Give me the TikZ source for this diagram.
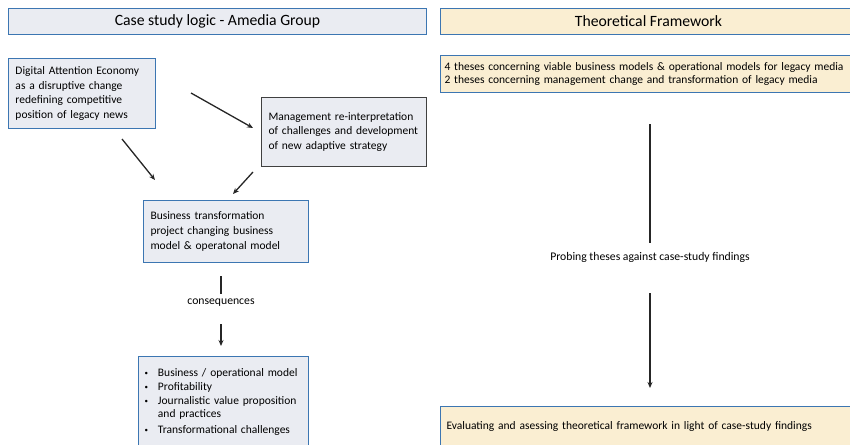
\documentclass[tikz,border=0pt]{standalone}
\usepackage{fontspec}
\setmainfont{Carlito}
\usetikzlibrary{arrows.meta, positioning}
\definecolor{boxgray}{RGB}{234,236,242}
\definecolor{boxbeige}{RGB}{250,238,210}
\definecolor{edgeblue}{RGB}{60,118,178}
\definecolor{edgedark}{RGB}{64,64,64}

\begin{document}
\begin{tikzpicture}[
    x=1pt, y=-1pt,
    head/.style={rectangle, draw=edgeblue, line width=1pt, minimum height=26pt, anchor=north west, font=\fontsize{15.7}{18}\selectfont},
    case/.style={rectangle, draw=edgeblue, line width=1pt, fill=boxgray, anchor=north west, align=left, inner sep=7pt, font=\fontsize{11.5}{14.7}\selectfont},
    theory/.style={rectangle, draw=edgeblue, line width=1pt, fill=boxbeige, anchor=north west, align=left, inner sep=3pt, font=\fontsize{11.5}{13}\selectfont},
    arrow/.style={-{Stealth[length=6pt, width=5pt]}, line width=1.3pt, draw=black!85},
    stem/.style={line width=1.3pt, draw=black!85},
    note/.style={font=\fontsize{11.7}{13}\selectfont}
]
    \useasboundingbox (0,0) rectangle (850,444);

    % headers
    \node (hcase) [head, fill=boxgray, minimum width=418pt] at (8,8) {Case study logic - Amedia Group};
    \node (htheo) [head, fill=boxbeige, minimum width=416pt] at (440,8) {Theoretical Framework};

    % left column
    \node (dae) [case, minimum width=147pt, minimum height=70pt, text width=133pt, inner sep=7pt] at (8,58)
        {Digital Attention Economy\\as a disruptive change\\redefining competitive\\position of legacy news};
    \node (mgmt) [case, draw=edgedark, minimum width=165pt, minimum height=69pt, text width=151pt] at (261,97)
        {Management re-interpretation\\of challenges and development\\of new adaptive strategy};
    \node (bt) [case, minimum width=165pt, minimum height=62pt, text width=151pt] at (143,200)
        {Business transformation\\project changing business\\model \& operatonal model};
    \node (cons) [note] at (221,303) {consequences};
    \node (res) [case, minimum width=170pt, minimum height=92pt, text width=158pt, inner sep=6pt] at (138,356)
        {\begin{tabular}{@{}l@{\hspace{10pt}}l@{}}
         \raisebox{1pt}{\scriptsize\textbullet} & Business / operational model\\[-0.7pt]
         \raisebox{1pt}{\scriptsize\textbullet} & Profitability\\[-0.7pt]
         \raisebox{1pt}{\scriptsize\textbullet} & Journalistic value proposition\\[-1.7pt]
                     & and practices\\[1.3pt]
         \raisebox{1pt}{\scriptsize\textbullet} & Transformational challenges
         \end{tabular}};

    % right column
    \node (thes) [theory, minimum width=416pt, minimum height=37pt, text width=408pt] at (440,55)
        {4 theses concerning viable business models \& operational models for legacy media\\
         2 theses concerning management change and transformation of legacy media};
    \node (probe) [note] at (650,257) {Probing theses against case-study findings};
    \node (eval) [theory, minimum width=416pt, minimum height=40pt, text width=404pt, inner sep=5pt] at (440,406)
        {Evaluating and asessing theoretical framework in light of case-study findings};

    % connectors
    \coordinate (a1) at (191,93);  \coordinate (a2) at (253,128);
    \coordinate (b1) at (122,139); \coordinate (b2) at (155,180);
    \coordinate (c1) at (253,172); \coordinate (c2) at (233,194);
    \draw [arrow] (a1) -- (a2);
    \draw [arrow] (b1) -- (b2);
    \draw [arrow] (c1) -- (c2);
    \draw [stem] (221,276) -- (cons.north |- 0,294);
    \draw [arrow] (cons.south |- 0,324) -- (221,346);
    \draw [stem] (650,124) -- (probe.north |- 0,243);
    \draw [arrow] (probe.south |- 0,293) -- (650,388);
\end{tikzpicture}
\end{document}
